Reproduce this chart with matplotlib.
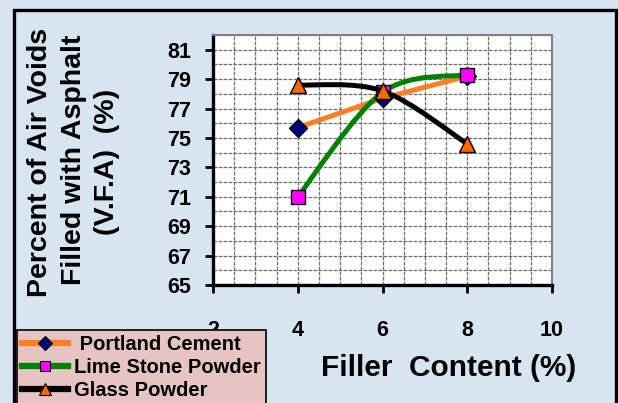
import matplotlib
matplotlib.use("Agg")
import matplotlib.pyplot as plt
from matplotlib.path import Path
from matplotlib.patches import PathPatch, Rectangle
from matplotlib.lines import Line2D
from matplotlib.ticker import MultipleLocator

plt.rcParams["font.family"] = ["Liberation Sans", "DejaVu Sans"]
plt.rcParams["font.weight"] = "bold"

# Filler content (%) and VFA (%) for each filler type
filler_content = [4, 6, 8]
portland_cement = [75.7, 77.7, 79.2]
lime_stone = [71.0, 78.1, 79.3]
glass_powder = [78.6, 78.2, 74.6]

series_names = [" Portland Cement", "Lime Stone Powder", "Glass Powder"]
x_ticks = [2, 4, 6, 8, 10]
y_ticks = [65, 67, 69, 71, 73, 75, 77, 79, 81]

W, H = 618, 403
fig = plt.figure(figsize=(W / 100, H / 100), dpi=100)
fig.patch.set_facecolor("#d7e5f2")

# outer frame around the figure
fig.add_artist(Rectangle((14 / W, -0.05), (616 - 14) / W, 1.05 - 10 / H,
                         transform=fig.transFigure, fill=False,
                         edgecolor="black", linewidth=2.4, clip_on=False,
                         zorder=0))

left, right, bottom, top = 213 / W, 552 / W, 1 - 285 / H, 1 - 35 / H
ax = fig.add_axes([left, bottom, right - left, top - bottom])
ax.set_facecolor("white")
ax.set_xlim(2, 10)
ax.set_ylim(65, 82)
ax.set_xticks(x_ticks)
ax.set_yticks(y_ticks)
ax.xaxis.set_minor_locator(MultipleLocator(0.5))
ax.yaxis.set_minor_locator(MultipleLocator(1))
ax.grid(True, which="both", color="#6e6e6e", linewidth=0.9,
        linestyle=(0, (3, 1)))
ax.set_axisbelow(True)

for side in ("left", "bottom"):
    ax.spines[side].set_linewidth(2.4)
    ax.spines[side].set_color("black")
for side in ("top", "right"):
    ax.spines[side].set_linewidth(1.5)
    ax.spines[side].set_color("#808080")

ax.tick_params(axis="both", which="major", direction="out", length=6,
               width=2, color="black", labelsize=15.5)
ax.tick_params(axis="x", which="major", pad=19)
ax.tick_params(axis="y", which="major", pad=10)
ax.tick_params(which="minor", length=0)
for lab in ax.get_xticklabels() + ax.get_yticklabels():
    lab.set_fontweight("bold")


def smooth_curve(xs, ys):
    """Bezier path through the points, with Catmull-Rom style tangents."""
    n = len(xs)
    verts = [(xs[0], ys[0])]
    codes = [Path.MOVETO]
    for i in range(n - 1):
        p0 = (xs[max(i - 1, 0)], ys[max(i - 1, 0)])
        p1 = (xs[i], ys[i])
        p2 = (xs[i + 1], ys[i + 1])
        p3 = (xs[min(i + 2, n - 1)], ys[min(i + 2, n - 1)])
        c1 = (p1[0] + (p2[0] - p0[0]) / 6, p1[1] + (p2[1] - p0[1]) / 6)
        c2 = (p2[0] - (p3[0] - p1[0]) / 6, p2[1] - (p3[1] - p1[1]) / 6)
        verts += [c1, c2, p2]
        codes += [Path.CURVE4] * 3
    return Path(verts, codes)


orange = "#ff7f27"
green = "#008000"

# Portland cement: straight segments
ax.plot(filler_content, portland_cement, color=orange, linewidth=3.6,
        solid_capstyle="butt", zorder=3)
ax.plot(filler_content, portland_cement, linestyle="none", marker="D",
        markersize=9, markerfacecolor="#000080", markeredgecolor="black",
        markeredgewidth=1, zorder=4)

# Lime stone powder: smoothed line
ax.add_patch(PathPatch(smooth_curve(filler_content, lime_stone), fill=False,
                       edgecolor=green, linewidth=3.6, zorder=5))
ax.plot(filler_content, lime_stone, linestyle="none", marker="s",
        markersize=10.5, markerfacecolor="#ff00ff", markeredgecolor="black",
        markeredgewidth=1, zorder=6)

# Glass powder: smoothed line
ax.add_patch(PathPatch(smooth_curve(filler_content, glass_powder), fill=False,
                       edgecolor="black", linewidth=3.6, zorder=7))
ax.plot(filler_content, glass_powder, linestyle="none", marker="^",
        markersize=11.5, markerfacecolor="#ff6600", markeredgecolor="black",
        markeredgewidth=1, zorder=8)

# axis titles
fig.text(449 / W, 1 - 368 / H, "Filler  Content (%)", fontsize=21.5,
         fontweight="bold", ha="center", va="center")
ylabel_lines = ["Percent of Air Voids", "Filled with Asphalt", "(V.F.A)  (%)"]
ylabel_x = [40, 74, 107]
ylabel_y = [162, 160, 162]
for txt, xx, yy in zip(ylabel_lines, ylabel_x, ylabel_y):
    fig.text(xx / W, 1 - yy / H, txt, fontsize=20.5, fontweight="bold",
             rotation=90, ha="center", va="center")

# legend
handles = [
    Line2D([], [], color=orange, linewidth=4.5, marker="D", markersize=7,
           markerfacecolor="#000080", markeredgecolor="black",
           markeredgewidth=0.8),
    Line2D([], [], color=green, linewidth=4.5, marker="s", markersize=7.5,
           markerfacecolor="#ff00ff", markeredgecolor="black",
           markeredgewidth=0.8),
    Line2D([], [], color="black", linewidth=4.5, marker="^", markersize=8.5,
           markerfacecolor="#ff6600", markeredgecolor="black",
           markeredgewidth=0.8),
]
leg = fig.legend(handles, series_names, loc="upper left",
                 bbox_to_anchor=(17 / W, 1 - 330 / H),
                 bbox_transform=fig.transFigure, borderaxespad=0,
                 frameon=True, fancybox=False, framealpha=1,
                 facecolor="#e6c4c4", edgecolor="black",
                 prop={"size": 14.5, "weight": "bold"}, handlelength=2.3,
                 handletextpad=0.3, labelspacing=0.2, borderpad=0.25)
leg.get_frame().set_linewidth(1.2)
leg.set_zorder(20)

fig.savefig("out.png", dpi=100, facecolor=fig.get_facecolor())
